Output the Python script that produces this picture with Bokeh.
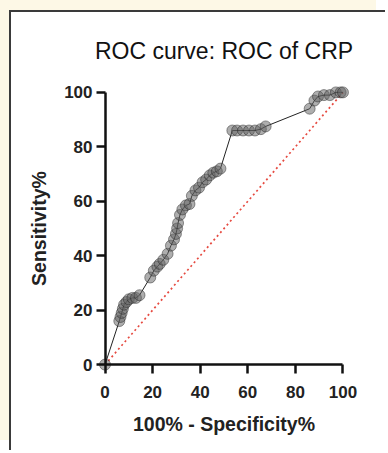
from bokeh.plotting import figure
from bokeh.models import Range1d, FixedTicker, LinearAxis
from bokeh.embed import file_html
from bokeh.resources import INLINE

# Data
fpr = [0, 6, 6.5, 7, 7.5, 8, 9, 10, 11.5, 13, 14.5, 19, 20.5, 22, 23, 24.5,
       26.3, 27.7, 29, 29.8, 30.3, 30.7, 31.5, 32.5, 34, 35.5, 36.5, 38, 39.5,
       41, 42.5, 44, 45.5, 47, 48.5, 53.5, 55.5, 58, 60.5, 63, 65.5, 67.5,
       86, 88, 89.5, 92, 94.5, 97, 99, 100]
sens = [0, 16, 17.5, 19, 20.5, 22, 23, 24, 24.5, 24.5, 25.5, 32, 34.5, 36, 37,
        38.5, 40.7, 43.7, 46, 48, 50, 52, 55, 57, 58.5, 59, 62, 64, 65, 67,
        68, 69.5, 70.5, 71, 72, 86, 86, 86, 86, 86, 86.5, 87.5, 94, 97, 98.5,
        99, 99, 100, 100, 100]
diag_x = [0, 100]
diag_y = [0, 100]
ticks = [0, 20, 40, 60, 80, 100]

FONT = "Liberation Sans"
CREAM = "#fdf8e6"

p = figure(width=376, height=440,
           x_range=Range1d(-4, 104), y_range=Range1d(-4, 104),
           output_backend="svg", toolbar_location=None,
           min_border_left=84, min_border_right=35,
           min_border_top=69, min_border_bottom=77)
p.styles = {"margin-left": "9px", "margin-top": "10px",
            "border-left": "2px solid #3a3a3a", "border-top": "2px solid #3a3a3a",
            "box-shadow": "-9px -10px 0 0 " + CREAM}

p.grid.visible = False
p.outline_line_color = None
p.background_fill_color = "white"
p.border_fill_color = "white"

p.title.text = "ROC curve: ROC of CRP"
p.title.align = "center"
p.title.text_font = FONT
p.title.text_font_size = "23px"
p.title.text_font_style = "normal"
p.title.text_color = "#111111"
p.title.standoff = 36
p.title.offset = -3

# Label-only axes at the frame edges
for ax in (p.xaxis[0], p.yaxis[0]):
    ax.ticker = FixedTicker(ticks=ticks)
    ax.axis_line_color = None
    ax.major_tick_line_color = None
    ax.minor_tick_line_color = None
    ax.major_tick_in = 0
    ax.major_tick_out = 0
    ax.major_label_text_font = FONT
    ax.major_label_text_font_size = "17px"
    ax.major_label_text_font_style = "bold"
    ax.major_label_text_color = "#222222"
    ax.axis_label_text_font = FONT
    ax.axis_label_text_font_size = "19.5px"
    ax.axis_label_text_font_style = "bold"
    ax.axis_label_text_color = "#222222"

p.xaxis.axis_label = "100% - Specificity%"
p.yaxis.axis_label = "Sensitivity%"
p.xaxis.major_label_standoff = 10
p.yaxis.major_label_standoff = 3
p.xaxis.axis_label_standoff = 12
p.yaxis.axis_label_standoff = 11

# Line/tick axes crossing at 0
def line_axis():
    a = LinearAxis(fixed_location=0, bounds=(0, 100),
                   ticker=FixedTicker(ticks=ticks))
    a.minor_tick_line_color = None
    a.major_tick_in = 0
    a.major_tick_out = 9
    a.major_tick_line_width = 2.5
    a.major_tick_line_color = "#111111"
    a.axis_line_width = 2.5
    a.axis_line_color = "#111111"
    a.major_label_text_alpha = 0
    return a

p.add_layout(line_axis(), "below")
p.add_layout(line_axis(), "left")

p.line(diag_x, diag_y, line_color="#e64a40", line_dash="2 3", line_width=1.7)
p.line(fpr, sens, line_color="#222222", line_width=1)
p.scatter(fpr, sens, size=11, fill_color="#5e5e5e", fill_alpha=0.5,
          line_color="#222222", line_alpha=0.45, line_width=1)

open("out.html", "w").write(file_html(p, INLINE))
